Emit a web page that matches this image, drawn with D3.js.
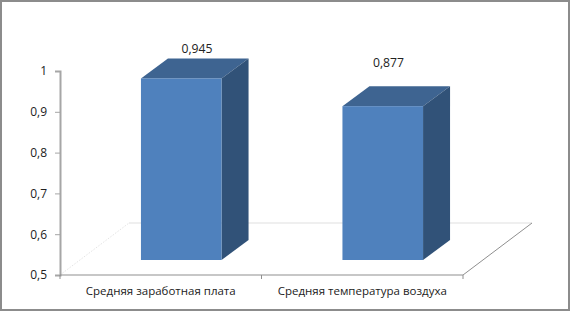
<!DOCTYPE html>
<html>
<head>
<meta charset="utf-8">
<script src="https://cdn.jsdelivr.net/npm/d3@7"></script>
<style>
  html, body { margin: 0; padding: 0; background: #fff; }
  svg { display: block; }
  text { font-family: "Open Sans", sans-serif; fill: #222; }
</style>
</head>
<body>
<div id="container"></div>
<script>
const categories = ["Средняя заработная плата", "Средняя температура воздуха"];
const values = [0.945, 0.877];
const valueLabels = ["0,945", "0,877"];
const tickValues = [0.5, 0.6, 0.7, 0.8, 0.9, 1];
const tickLabels = ["0,5", "0,6", "0,7", "0,8", "0,9", "1"];

const width = 570;
const height = 311;
const margin = { top: 71, right: 107, bottom: 36, left: 60 };

// floor depth of the 3d box, and how far the bars sit inside it
const floorDx = 69, floorDy = -52;
const barShiftX = 20.5, barShiftY = -15;
const depthX = 27, depthY = -20;

const svg = d3.select("#container").append("svg")
  .attr("width", width)
  .attr("height", height);

svg.append("rect")
  .attr("x", 1).attr("y", 1)
  .attr("width", width - 2).attr("height", height - 2)
  .attr("fill", "#fff")
  .attr("stroke", "#8c8c8c")
  .attr("stroke-width", 2);

const x = d3.scaleBand()
  .domain(categories)
  .range([margin.left, width - margin.right])
  .paddingInner(0.6)
  .paddingOuter(0.3);

const y = d3.scaleLinear()
  .domain([0.5, 1])
  .range([height - margin.bottom, margin.top]);

const x0 = x.range()[0], x1 = x.range()[1], y0 = y(0.5);

// floor
svg.append("path")
  .attr("d", `M${x0},${y0}L${x0 + floorDx},${y0 + floorDy}`)
  .attr("fill", "none")
  .attr("stroke", "#e4e4e4")
  .attr("stroke-dasharray", "1.5,1.5");
svg.append("path")
  .attr("d", `M${x0 + floorDx},${y0 + floorDy}H${x1 + floorDx}`)
  .attr("fill", "none")
  .attr("stroke", "#efefef")
  .attr("stroke-width", 2);
svg.append("path")
  .attr("d", `M${x1},${y0}L${x1 + floorDx},${y0 + floorDy}`)
  .attr("fill", "none")
  .attr("stroke", "#8f8f8f");

// bars
const bars = svg.append("g").selectAll("g")
  .data(categories.map((c, i) => ({ c, v: values[i], label: valueLabels[i] })))
  .join("g");

const left = d => x(d.c) + barShiftX;
const right = d => left(d) + x.bandwidth();
const top_ = d => y(d.v) + barShiftY;
const bottom = () => y0 + barShiftY;

bars.append("path")
  .attr("fill", "#3e6491")
  .attr("d", d => `M${left(d)},${top_(d)}l${depthX},${depthY}H${right(d) + depthX}L${right(d)},${top_(d)}Z`);
bars.append("path")
  .attr("fill", "#315278")
  .attr("d", d => `M${right(d)},${top_(d)}l${depthX},${depthY}V${bottom() + depthY}L${right(d)},${bottom()}Z`);
bars.append("rect")
  .attr("x", left)
  .attr("y", top_)
  .attr("width", x.bandwidth())
  .attr("height", d => bottom() - top_(d))
  .attr("fill", "#4f81bd");

// value labels
svg.append("g").selectAll("text")
  .data(bars.data())
  .join("text")
  .attr("x", (d, i) => left(d) + [56, 46][i])
  .attr("y", (d, i) => [53, 67][i])
  .attr("text-anchor", "middle")
  .attr("font-size", 12.2)
  .text(d => d.label);

// axes
const yAxis = d3.axisLeft(y)
  .tickValues(tickValues)
  .tickFormat((d, i) => tickLabels[i])
  .tickSize(5)
  .tickPadding(8);
svg.append("g")
  .attr("transform", `translate(${margin.left},0)`)
  .call(yAxis)
  .call(g => g.select(".domain").attr("stroke", "#a6a6a6").attr("stroke-width", 2))
  .call(g => g.selectAll(".tick line").attr("stroke", "#a6a6a6"))
  .call(g => g.selectAll("text").attr("font-size", 12).attr("fill", "#222").style("font-family", '"Open Sans", sans-serif'));

const xAxis = d3.axisBottom(x)
  .tickSize(0)
  .tickPadding(12);
svg.append("g")
  .attr("transform", `translate(0,${y0})`)
  .call(xAxis)
  .call(g => g.select(".domain").attr("stroke", "#8f8f8f").attr("d", `M${x0},0H${x1}`))
  .call(g => g.selectAll("text").attr("font-size", 11.5).attr("fill", "#222").style("font-family", '"Open Sans", sans-serif'));

// ticks between the categories, on the band edges
svg.append("g").selectAll("line")
  .data([x0, x0 + x.step(), x1])
  .join("line")
  .attr("x1", d => d).attr("x2", d => d)
  .attr("y1", y0).attr("y2", y0 + 4)
  .attr("stroke", "#8f8f8f");
</script>
</body>
</html>
